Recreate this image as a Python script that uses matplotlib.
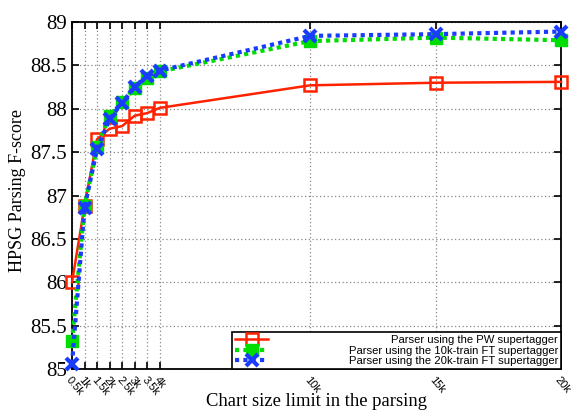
import matplotlib
matplotlib.use("Agg")
import matplotlib.pyplot as plt

# chart size limit (x) and F-scores
chart_limit = [500, 1000, 1500, 2000, 2500, 3000, 3500, 4000, 10000, 15000, 20000]
tick_labels = ["0.5k", "1k", "1.5k", "2k", "2.5k", "3k", "3.5k", "4k", "10k", "15k", "20k"]

pw_scores = [86.00, 86.88, 87.65, 87.77, 87.80, 87.92, 87.95, 88.01, 88.27, 88.30, 88.31]
ft10k_scores = [85.32, 86.88, 87.56, 87.92, 88.08, 88.24, 88.35, 88.43, 88.78, 88.82, 88.79]
ft20k_scores = [85.06, 86.86, 87.54, 87.88, 88.07, 88.25, 88.38, 88.44, 88.84, 88.86, 88.89]

labels = [
    "Parser using the PW supertagger",
    "Parser using the 10k-train FT supertagger",
    "Parser using the 20k-train FT supertagger",
]

fig = plt.figure(figsize=(5.74, 4.11), dpi=100)
ax = fig.add_axes([72 / 574, 1 - 369 / 411, (561 - 72) / 574, (369 - 22) / 411])

ax.plot(chart_limit, pw_scores, color="#ff2200", lw=1.8, marker="s", ms=8,
        mfc="none", mec="#ff2200", mew=1.8, label=labels[0], clip_on=False, zorder=3)
ax.plot(chart_limit, ft10k_scores, color="#00dd00", lw=3, ls=(0, (1, 1)),
        marker="s", ms=8, mfc="#00dd00", mec="#00dd00", label=labels[1],
        clip_on=False, zorder=4)
ax.plot(chart_limit, ft20k_scores, color="#1a3cff", lw=3, ls=(0, (1, 1)),
        marker="x", ms=9, mew=3, mec="#1a3cff", label=labels[2],
        clip_on=False, zorder=5)

ax.set_xlim(500, 20000)
ax.set_ylim(85, 89)
ax.set_xticks(chart_limit)
ax.set_xticklabels(tick_labels, rotation=-50, ha="left", va="top",
                   rotation_mode="anchor", family="Liberation Sans", fontsize=8)
yt = [85 + 0.5 * i for i in range(9)]
ax.set_yticks(yt)
ax.set_yticklabels([f"{v:g}" for v in yt], family="Liberation Serif", fontsize=15)
ax.tick_params(direction="in", top=True, right=True, length=5, width=1.2)
ax.tick_params(axis="y", pad=3.5)
ax.tick_params(axis="x", pad=4)
ax.grid(True, color="#888888", ls=(0, (1, 2)), lw=0.9)
for s in ax.spines.values():
    s.set_linewidth(1.3)

ax.set_xlabel("Chart size limit in the parsing", family="Liberation Serif",
              fontsize=13.4)
ax.xaxis.set_label_coords(0.5, -(393 - 369) / 347)
ax.set_ylabel("HPSG Parsing F-score", family="Liberation Serif", fontsize=13)
ax.yaxis.set_label_coords(-(72 - 26) / 489, (369 - 190) / 347)

leg = ax.legend(loc="lower right", bbox_to_anchor=(1.0, 0.0), borderaxespad=0,
                prop={"family": "Liberation Sans", "size": 8.1},
                handlelength=2.9, handletextpad=7.2, labelspacing=0.05,
                borderpad=0.25, fancybox=False, framealpha=1, edgecolor="black")
leg.get_frame().set_linewidth(1.2)

# right-align the legend texts, as in the original key
fig.canvas.draw()
widths = [t.get_window_extent().width for t in leg.get_texts()]
wmax = max(widths)
for t, w in zip(leg.get_texts(), widths):
    t.set_x(wmax - w)

fig.savefig("out.png", dpi=100)
